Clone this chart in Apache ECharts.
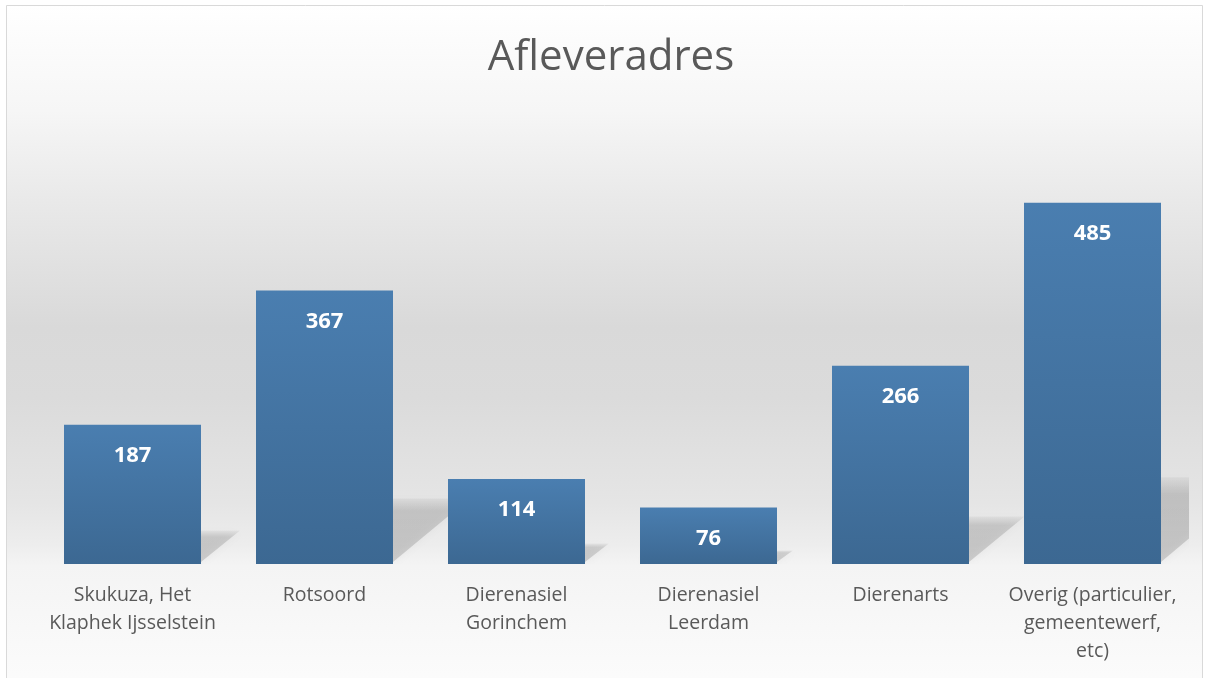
<!DOCTYPE html>
<html>
<head>
    <meta charset="utf-8">
    <title>Afleveradres</title>
    <script src="https://cdn.jsdelivr.net/npm/echarts@6/dist/echarts.min.js"></script>
    <style>
        html, body { margin: 0; padding: 0; background: #ffffff; }
        #main { width: 1207px; height: 678px; }
    </style>
</head>
<body>
<div id="main"></div>
<script>
var categories = ['Skukuza, Het\nKlaphek Ijsselstein', 'Rotsoord', 'Dierenasiel\nGorinchem', 'Dierenasiel\nLeerdam', 'Dierenarts', 'Overig (particulier,\ngemeentewerf,\netc)'];
var values = [187, 367, 114, 76, 266, 485];

var barWidth = 137;
var chart = echarts.init(document.getElementById('main'));

// schaduw achter de staven (schuin naar rechts op de "vloer")
function renderShadow(params, api) {
    var base = api.coord([api.value(0), 0]);
    var top = api.coord([api.value(0), api.value(1)]);
    var h = base[1] - top[1];
    var dx = h * 0.28, dy = h * 0.24;
    var x0 = base[0] - barWidth / 2, x1 = base[0] + barWidth / 2;
    return {
        type: 'polygon',
        shape: {
            points: [[x0, base[1] - 2], [x1, base[1] - 2], [x1 + dx, base[1] - dy], [x0 + dx, base[1] - dy]]
        },
        style: {
            fill: new echarts.graphic.LinearGradient(0, 0, 0, 1, [
                {offset: 0, color: 'rgba(0,0,0,0.04)'},
                {offset: 0.2, color: 'rgba(0,0,0,0.13)'},
                {offset: 1, color: 'rgba(0,0,0,0.15)'}
            ]),
            shadowBlur: 9,
            shadowColor: 'rgba(0,0,0,0.28)'
        }
    };
}

var option = {
    animation: false,
    backgroundColor: '#ffffff',
    graphic: [{
        type: 'rect',
        z: -10,
        silent: true,
        shape: {x: 6.5, y: 5.5, width: 1196, height: 700},
        style: {
            stroke: '#d9d9d9',
            lineWidth: 1,
            fill: new echarts.graphic.LinearGradient(0, 0, 0, 1, [
                {offset: 0, color: '#ffffff'},
                {offset: 0.15, color: '#f6f6f6'},
                {offset: 0.28, color: '#e9e9e9'},
                {offset: 0.46, color: '#d9d9d9'},
                {offset: 0.56, color: '#dbdbdb'},
                {offset: 0.71, color: '#e5e5e5'},
                {offset: 0.77, color: '#ededed'},
                {offset: 0.8, color: '#f4f4f4'},
                {offset: 1, color: '#fdfdfd'}
            ])
        }
    }],
    title: {
        text: 'Afleveradres',
        left: 611,
        top: 37,
        padding: 0,
        textAlign: 'center',
        textStyle: {
            fontFamily: 'Open Sans',
            fontSize: 42,
            fontWeight: 'normal',
            color: '#595959'
        }
    },
    grid: {
        left: 36.5,
        right: 18.5,
        top: 117,
        bottom: 114
    },
    xAxis: {
        type: 'category',
        data: categories,
        axisLine: {show: false},
        axisTick: {show: false},
        axisLabel: {
            interval: 0,
            margin: 17,
            fontFamily: 'Open Sans',
            fontSize: 19.5,
            lineHeight: 28,
            color: '#595959',
            align: 'center'
        }
    },
    yAxis: {
        type: 'value',
        min: 0,
        max: 600,
        show: false,
        splitLine: {show: false}
    },
    series: [
        {
            type: 'custom',
            z: 1,
            clip: true,
            silent: true,
            renderItem: renderShadow,
            encode: {x: 0, y: 1},
            data: values.map(function (v, i) { return [i, v]; })
        },
        {
            type: 'bar',
            z: 3,
            barWidth: barWidth,
            data: values,
            itemStyle: {
                color: new echarts.graphic.LinearGradient(0, 0, 0, 1, [
                    {offset: 0, color: '#4a7eb0'},
                    {offset: 1, color: '#3c6892'}
                ])
            },
            label: {
                show: true,
                position: 'insideTop',
                distance: 20,
                fontFamily: 'Open Sans',
                fontSize: 22,
                fontWeight: 'bold',
                color: '#ffffff'
            }
        }
    ]
};
chart.setOption(option);
</script>
</body>
</html>
